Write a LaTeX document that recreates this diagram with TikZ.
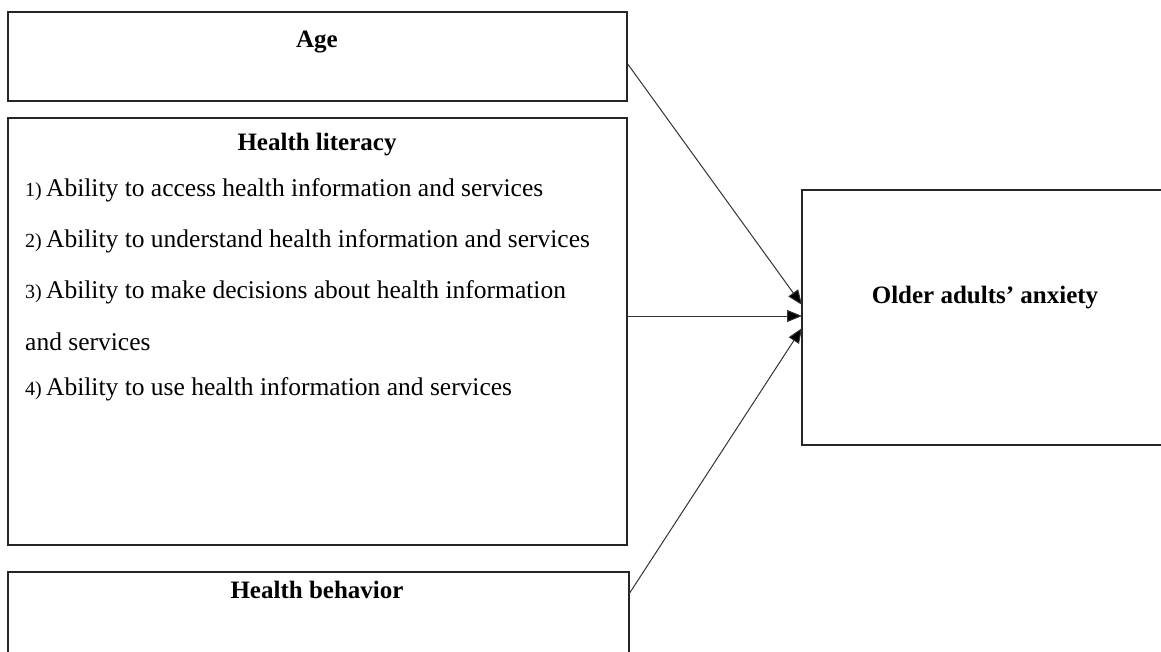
\documentclass[tikz,border=0pt]{standalone}
\usepackage{fontspec}
\setmainfont{Liberation Serif}
\usetikzlibrary{arrows.meta,calc}

\newcommand{\itemno}[1]{{\fontsize{20}{22}\selectfont #1}\,}

\begin{document}
\begin{tikzpicture}[x=1pt,y=-1pt,
  frame/.style={draw=black!85, line width=1.8pt, anchor=north west, inner sep=0pt, outer sep=0pt},
  link/.style={draw=black!80, line width=1pt, -{Triangle[length=15pt,width=12pt,fill=black]}},
  heading/.style={font=\fontsize{25}{30}\selectfont\bfseries, anchor=base},
  entry/.style={font=\fontsize{25.5}{30}\selectfont, anchor=base west, inner sep=0pt}]

\useasboundingbox (0,0) rectangle (1161,651);
\clip (0,0) rectangle (1161,651);

% predictor boxes on the left
\node[frame, minimum width=619pt, minimum height=89pt]  (age) at (8,12)  {};
\node[frame, minimum width=619pt, minimum height=427pt] (hl)  at (8,118) {};
\node[frame, minimum width=621pt, minimum height=100pt] (hb)  at (8,572) {};

% outcome box on the right
\node[frame, minimum width=380pt, minimum height=255pt] (anx) at (802,190) {};

% box titles
\node[heading] (agetitle) at (317,47)  {Age};
\node[heading] (hltitle)  at (317,150) {Health literacy};
\node[heading] (hbtitle)  at (317,598) {Health behavior};
\node[heading] (anxtitle) at (985,303) {Older adults’ anxiety};

% health literacy components
\node[entry] (hl1)  at (25,196) {\itemno{1)}Ability to access health information and services};
\node[entry] (hl2)  at (25,247) {\itemno{2)}Ability to understand health information and services};
\node[entry] (hl3)  at (25,298) {\itemno{3)}Ability to make decisions about health information};
\node[entry] (hl3b) at (25,350) {and services};
\node[entry] (hl4)  at (25,395) {\itemno{4)}Ability to use health information and services};

% effects on anxiety
\draw[link] ($(age.east)+(0,6.5)$)  -- ($(anx.west)+(0,-12.5)$);
\draw[link] ($(hl.east)+(0,-15.5)$) -- ($(anx.west)+(0,-1.5)$);
\draw[link] ($(hb.east)+(0,-28)$)   -- ($(anx.west)+(0,10.5)$);
\end{tikzpicture}
\end{document}
